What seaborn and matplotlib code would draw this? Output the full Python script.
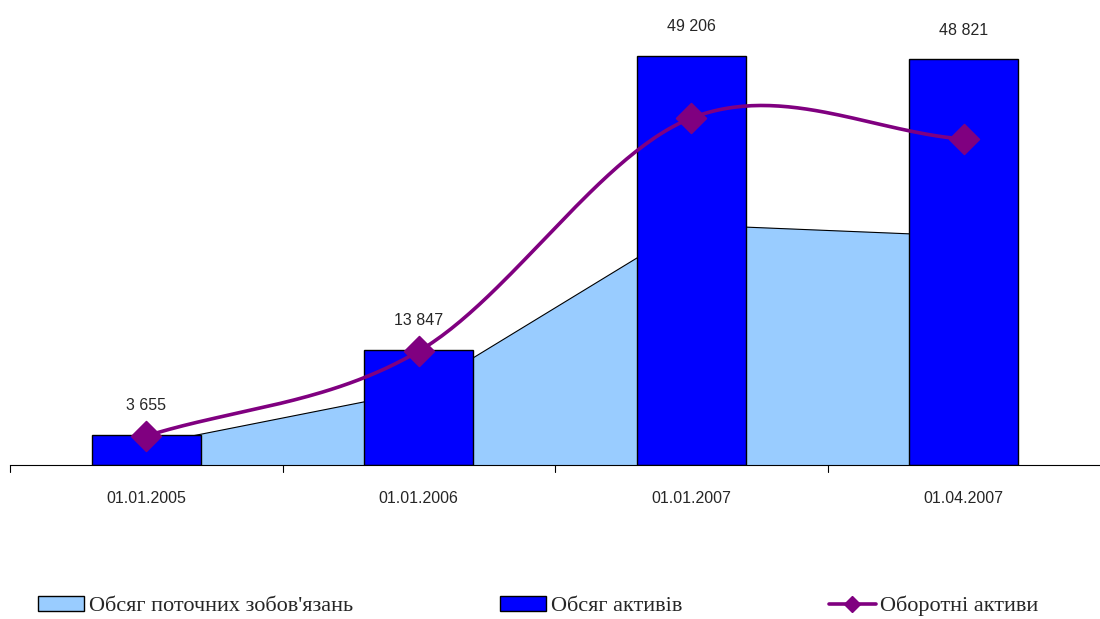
import numpy as np
import pandas as pd
import matplotlib
matplotlib.use("Agg")
import matplotlib.pyplot as plt
import seaborn as sns
from matplotlib.patches import Patch
from matplotlib.lines import Line2D

# дані
dates = ["01.01.2005", "01.01.2006", "01.01.2007", "01.04.2007"]
assets = [3655, 13847, 49206, 48821]            # Обсяг активів
liabilities = [2400, 8900, 28900, 27550]        # Обсяг поточних зобов'язань
current_assets = [3490, 13700, 41750, 39220]    # Оборотні активи

names = ["Обсяг поточних зобов'язань", "Обсяг активів", "Оборотні активи"]

c_area = "#99ccff"
c_bar = "#0000ff"
c_line = "#800080"


def smooth_curve(y, n=60):
    """Згладжена лінія як у Excel (Catmull-Rom)."""
    y = np.asarray(y, dtype=float)
    k = len(y)
    m = np.zeros(k)
    m[0] = y[1] - y[0]
    m[-1] = y[-1] - y[-2]
    m[1:-1] = (y[2:] - y[:-2]) / 2
    xs, ys = [], []
    for i in range(k - 1):
        t = np.linspace(0, 1, n)
        h00 = 2 * t**3 - 3 * t**2 + 1
        h10 = t**3 - 2 * t**2 + t
        h01 = -2 * t**3 + 3 * t**2
        h11 = t**3 - t**2
        xs.append(i + t)
        ys.append(h00 * y[i] + h10 * m[i] + h01 * y[i + 1] + h11 * m[i + 1])
    return np.concatenate(xs), np.concatenate(ys)


df = pd.DataFrame({"date": dates, "assets": assets})

sns.set_style("white")
fig = plt.figure(figsize=(11, 6.19), dpi=100)
ax = fig.add_axes([10 / 1100, 154 / 619, 1090 / 1100, 457 / 619])

pos = np.arange(len(dates))
ax.fill_between(pos, 0, liabilities, color=c_area, zorder=1)
ax.plot(pos, liabilities, color="black", lw=0.8, zorder=1.5)

sns.barplot(data=df, x="date", y="assets", color=c_bar, width=0.4,
            saturation=1, edgecolor="black", linewidth=1, ax=ax, zorder=2)

sx, sy = smooth_curve(current_assets)
ax.plot(sx, sy, color=c_line, lw=2.6, zorder=3)
sns.scatterplot(x=pos, y=current_assets, marker="D", s=230, color=c_line,
                edgecolor=c_line, ax=ax, zorder=4)

for i, v in enumerate(assets):
    ax.annotate(f"{v:,}".replace(",", " "), (i, v), xytext=(0, 21),
                textcoords="offset points", ha="center", va="center",
                fontsize=11.5, family="Liberation Sans")

ax.set_xlim(-0.5, 3.5)
ax.set_ylim(0, 55000)
ax.set_xlabel("")
ax.set_ylabel("")
ax.set_yticks([])
for s in ["top", "right", "left"]:
    ax.spines[s].set_visible(False)
ax.spines["bottom"].set_color("black")
ax.spines["bottom"].set_linewidth(0.8)
ax.set_xticks(pos)
ax.set_xticklabels(dates, family="Liberation Sans", fontsize=11.5)
ax.tick_params(axis="x", length=0, pad=19)
for b in [-0.5, 0.5, 1.5, 2.5]:
    ax.plot([b, b], [0, -800], color="black", lw=0.8, clip_on=False)

handles = [
    Patch(facecolor=c_area, edgecolor="black", linewidth=1),
    Patch(facecolor=c_bar, edgecolor="black", linewidth=1),
    Line2D([0], [0], color=c_line, lw=2.6, marker="D", markersize=8),
]
fig.legend(handles, names, loc="center", bbox_to_anchor=(538 / 1100, 13 / 619),
           ncol=3, frameon=False, handlelength=2.1, handleheight=0.7,
           handletextpad=0.2, columnspacing=6.6,
           prop={"family": "Liberation Serif", "size": 16})

fig.savefig("out.png", dpi=100)
